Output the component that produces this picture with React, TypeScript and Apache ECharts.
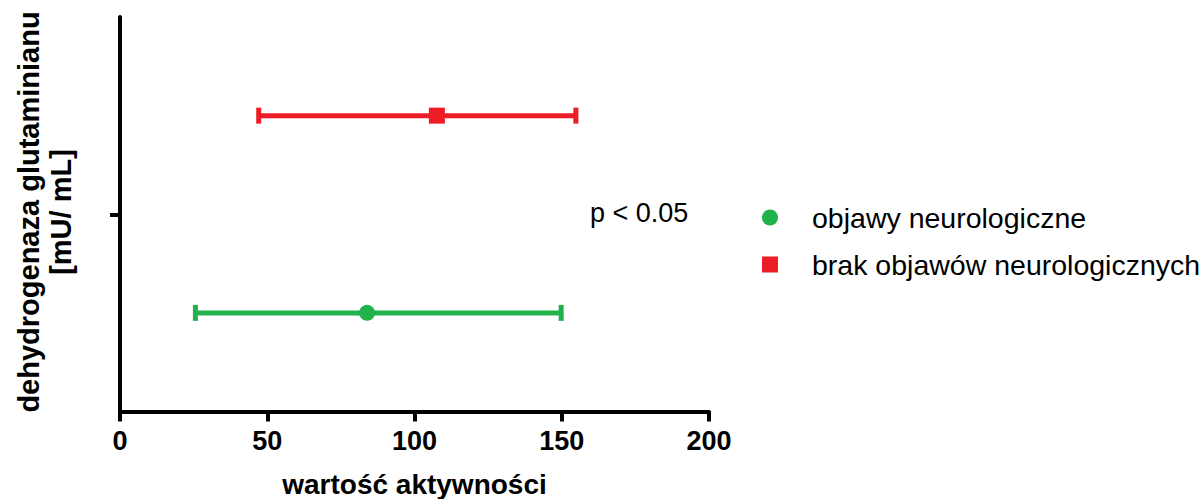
import React, { useEffect, useRef } from "react";
import * as echarts from "echarts";

const groupNames = ["objawy neurologiczne", "brak objawów neurologicznych"];
const groupColors = ["#22b24c", "#ee1c25"];
const groupSymbols = ["circle", "rect"];
const groupRows = [1, 3];
const means = [83.9, 107.6];
const lows = [25.6, 47.1];
const highs = [149.8, 154.8];
const xTicks = [0, 50, 100, 150, 200];
const yTickValues = [2];
const pValueText = "p < 0.05";
const xTitle = "wartość aktywności";
const yTitle = "dehydrogenaza glutaminianu\n[mU/ mL]";

const FONT = "'Liberation Sans', Arial, Helvetica, sans-serif";

export default function App() {
  const ref = useRef<HTMLDivElement>(null);
  useEffect(() => {
    if (!ref.current) return;
    const chart = echarts.init(ref.current, null, { renderer: "svg" });
    const errorData = groupNames.map((_, i) => ({
      value: [lows[i], highs[i], groupRows[i]],
      itemStyle: { color: groupColors[i] },
    }));
    const scatterSeries = groupNames.map((name, i) => ({
      name,
      type: "scatter",
      symbol: groupSymbols[i],
      symbolSize: 16,
      itemStyle: { color: groupColors[i], opacity: 1 },
      data: [[means[i], groupRows[i]]],
      z: 5,
    }));
    const option: any = {
      animation: false,
      backgroundColor: "#ffffff",
      textStyle: { fontFamily: FONT },
      grid: {
        left: 120,
        right: 494,
        top: 17,
        bottom: 87.5,
        containLabel: false,
        outerBoundsMode: "none",
      },
      xAxis: {
        type: "value",
        min: xTicks[0],
        max: xTicks[xTicks.length - 1],
        interval: 50,
        splitLine: { show: false },
        axisLine: { show: true, lineStyle: { color: "#000", width: 4 } },
        axisTick: { show: true, inside: false, length: 10, lineStyle: { color: "#000", width: 4 } },
        axisLabel: {
          margin: 16,
          color: "#000",
          fontSize: 27,
          fontWeight: "bold",
          fontFamily: FONT,
        },
        name: xTitle,
        nameLocation: "middle",
        nameGap: 59,
        nameTextStyle: { color: "#000", fontSize: 28, fontWeight: "bold", fontFamily: FONT },
      },
      yAxis: {
        type: "value",
        min: 0,
        max: 4,
        interval: 2,
        splitLine: { show: false },
        axisLine: { show: true, lineStyle: { color: "#000", width: 4 } },
        axisTick: {
          show: true,
          inside: false,
          length: 10,
          customValues: yTickValues,
          lineStyle: { color: "#000", width: 4 },
        },
        axisLabel: { show: false },
      },
      legend: {
        orient: "vertical",
        left: 757,
        top: 198,
        itemWidth: 16,
        itemHeight: 16,
        itemGap: 18,
        data: groupNames.map((n, i) => ({ name: n, icon: groupSymbols[i] })),
        textStyle: { color: "#000", fontSize: 28.5, fontFamily: FONT, padding: [0, 0, 0, 29] },
        selectedMode: false,
      },
      graphic: [
        {
          type: "text",
          left: 590,
          top: 199,
          style: { text: pValueText, fill: "#000", font: `27px ${FONT}` },
        },
        {
          type: "text",
          x: 45,
          y: 212,
          rotation: Math.PI / 2,
          style: {
            text: yTitle,
            fill: "#000",
            font: `bold 29px ${FONT}`,
            align: "center",
            verticalAlign: "middle",
            lineHeight: 32,
          },
        },
      ],
      series: [
        {
          type: "custom",
          name: "error",
          z: 3,
          renderItem: (params: any, api: any) => {
            const y = api.value(2);
            const p1 = api.coord([api.value(0), y]);
            const p2 = api.coord([api.value(1), y]);
            const color = api.visual("color");
            const cap = 8;
            const style = { stroke: color, lineWidth: 5 };
            return {
              type: "group",
              children: [
                { type: "line", shape: { x1: p1[0], y1: p1[1], x2: p2[0], y2: p2[1] }, style },
                { type: "line", shape: { x1: p1[0], y1: p1[1] - cap, x2: p1[0], y2: p1[1] + cap }, style },
                { type: "line", shape: { x1: p2[0], y1: p2[1] - cap, x2: p2[0], y2: p2[1] + cap }, style },
              ],
            };
          },
          encode: { x: [0, 1], y: 2 },
          data: errorData,
        },
        ...scatterSeries,
      ],
    };
    chart.setOption(option);
    return () => chart.dispose();
  }, []);
  return (
    <div
      ref={ref}
      style={{ position: "fixed", left: 0, top: 0, width: 1203, height: 499 }}
    />
  );
}
